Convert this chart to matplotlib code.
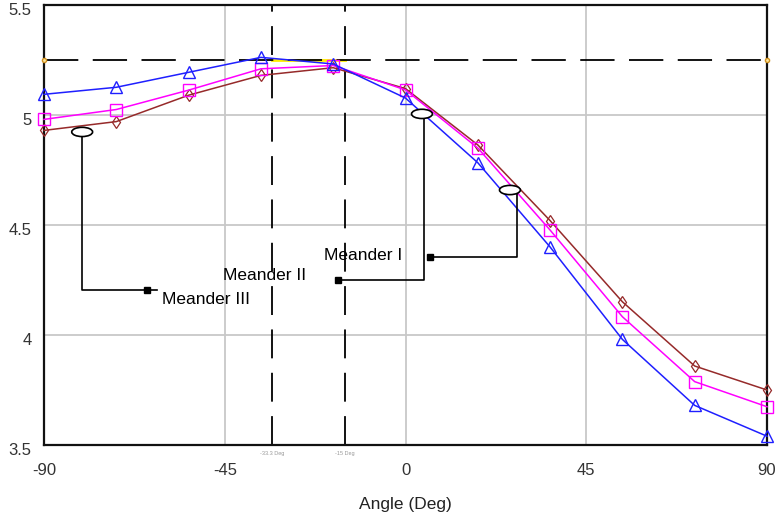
import matplotlib
matplotlib.use("Agg")
import matplotlib.pyplot as plt
import matplotlib.transforms as mtransforms
from matplotlib.patches import Ellipse

# ---- data ----
angles = [-90, -72, -54, -36, -18, 0, 18, 36, 54, 72, 90]
meander_ii = [5.094, 5.126, 5.194, 5.262, 5.232, 5.077, 4.783, 4.40, 3.98, 3.68, 3.54]     # blue
meander_i = [4.98, 5.025, 5.113, 5.21, 5.225, 5.114, 4.85, 4.477, 4.083, 3.788, 3.674]     # magenta
meander_iii = [4.93, 4.97, 5.09, 5.18, 5.215, 5.12, 4.864, 4.52, 4.151, 3.859, 3.75]      # brown
ref_level = 5.25
ref_angles = [-33.3, -15]
ref_labels = ["-33.3 Deg", "-15 Deg"]
xticks = [-90, -45, 0, 45, 90]
yticks = [3.5, 4, 4.5, 5, 5.5]
ytick_labels = ["3.5", "4", "4.5", "5", "5.5"]

plt.rcParams['font.family'] = ['Liberation Sans', 'DejaVu Sans']
plt.rcParams['axes.unicode_minus'] = False

fig = plt.figure(figsize=(7.78, 5.15), dpi=100)
ax = fig.add_axes([44/778, 1-445/515, 723/778, 440/515])
ax.set_xlim(-90, 90)
ax.set_ylim(3.5, 5.5)

ax.grid(True, color='#c8c8c8', linewidth=1.3)
ax.set_axisbelow(True)

# reference lines
ax.plot(ref_angles, [ref_level, ref_level], color='#ffee00', linewidth=2, zorder=2)
ax.axhline(ref_level, color='black', linewidth=1.3, dashes=(19, 8), zorder=2)
for a in ref_angles:
    ax.axvline(a, color='black', linewidth=1.3, dashes=(16, 8), zorder=2)
ax.plot([-90, 90], [ref_level, ref_level], linestyle='none', marker='o', markersize=3,
        markerfacecolor='#ffe9a0', markeredgecolor='#d09020', clip_on=False, zorder=5)

lw = 1.1
ax.plot(angles, meander_iii, color='#962a2a', linewidth=lw, marker='d', markersize=6,
        markerfacecolor='none', markeredgecolor='#962a2a', markeredgewidth=0.9, zorder=3, clip_on=False)
ax.plot(angles, meander_i, color='#ff00ff', linewidth=lw, marker='s', markersize=9,
        markerfacecolor='none', markeredgecolor='#ff00ff', markeredgewidth=1.0, zorder=4, clip_on=False)
ax.plot(angles, meander_ii, color='#1f1fff', linewidth=lw, marker='^', markersize=8,
        markerfacecolor='none', markeredgecolor='#1f1fff', markeredgewidth=1.0, zorder=4, clip_on=False)

# callouts
def callout(ex, ey, path_x, path_y, sq_x, text, tx, ty, ha):
    ax.plot(path_x, path_y, color='black', linewidth=1.2, zorder=6)
    ax.plot([sq_x], [path_y[-1]], marker='s', markersize=4, color='black', zorder=6)
    ax.add_patch(Ellipse((ex, ey), 5.2, 0.042, facecolor='white', edgecolor='black',
                         linewidth=1.2, zorder=7))
    ax.text(tx, ty, text, fontsize=12.5, color='black', ha=ha, va='center', zorder=8)

callout(4.1, 5.005, [4.7, 4.7, -16.2], [4.99, 4.25, 4.25], -16.8, "Meander II", -24.8, 4.27, 'right')
callout(26.0, 4.659, [27.8, 27.8, 6.8], [4.645, 4.355, 4.355], 6.1, "Meander I", -0.7, 4.36, 'right')
callout(-80.5, 4.923, [-80.5, -80.5, -61.9], [4.90, 4.205, 4.205], -64.3, "Meander III", -60.6, 4.16, 'left')

# small reference labels
for a, lab in zip(ref_angles, ref_labels):
    ax.text(a, 3.463, lab, fontsize=4, color='#999999', ha='center', va='center')

ax.set_xticks(xticks)
ax.set_yticks(yticks)
ax.set_yticklabels(ytick_labels)
ax.tick_params(length=0, labelsize=12, labelcolor='#333333')
ax.tick_params(axis='x', pad=13)
ax.tick_params(axis='y', pad=9)
shift = mtransforms.ScaledTranslation(0, -4/100, fig.dpi_scale_trans)
for lab in ax.get_yticklabels():
    lab.set_transform(lab.get_transform() + shift)
ax.set_xlabel("Angle (Deg)", fontsize=12.5, labelpad=14, color='#222222')

for s in ax.spines.values():
    s.set_linewidth(1.6)
    s.set_color('#111111')

fig.savefig("out.png", dpi=100)
